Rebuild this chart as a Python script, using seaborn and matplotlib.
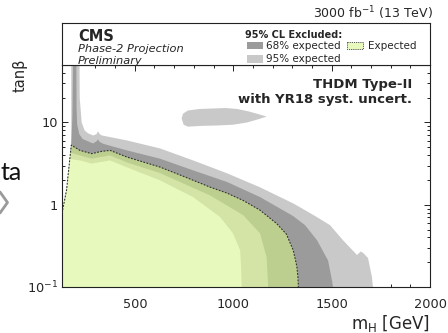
import matplotlib
matplotlib.use("Agg")
import matplotlib.pyplot as plt
import seaborn as sns
from matplotlib.patches import Rectangle
from matplotlib.lines import Line2D
from matplotlib.ticker import FixedLocator, MultipleLocator, LogLocator, NullFormatter

# ---- exclusion contours in the (m_H, tan beta) plane ----
# common low-mass edge of the excluded area
edge_m = [130, 130, 153]
edge_tb = [0.1, 0.79, 1.5]

# +2 sigma (95% expected, outer edge)
p2_m = [177, 177, 219, 220, 230, 245, 262, 288, 305, 313, 322, 333, 460, 628, 796,
        969, 1136, 1304, 1340, 1420, 1492, 1558, 1629, 1648, 1660, 1685, 1705, 1710]
p2_tb = [5.3, 50, 50, 20, 10, 8.0, 7.4, 6.95, 7.2, 7.8, 7.2, 6.95, 6.05, 4.84, 3.46,
         2.41, 1.63, 1.04, 0.93, 0.72, 0.565, 0.37, 0.245, 0.27, 0.26, 0.225, 0.132, 0.1]

# +1 sigma (68% expected, outer edge)
p1_m = [177, 183, 186, 203, 204, 207, 218, 235, 262, 288, 305, 313, 322, 340, 460,
        628, 796, 969, 1136, 1304, 1365, 1426, 1482, 1502, 1507]
p1_tb = [5.3, 12, 50, 50, 15, 9.5, 7.2, 6.3, 5.9, 5.56, 5.9, 6.2, 5.8, 5.5, 4.58,
         3.63, 2.62, 1.89, 1.24, 0.73, 0.565, 0.37, 0.21, 0.12, 0.1]

# median expected limit
exp_m = [130, 130, 153, 177, 221, 281, 330, 374, 460, 628, 750, 882, 970, 1050,
         1136, 1221, 1270, 1305, 1323, 1329, 1331]
exp_tb = [0.1, 0.79, 1.5, 5.3, 4.58, 4.18, 4.45, 4.58, 3.8, 2.87, 2.2, 1.64, 1.38, 1.13,
          0.86, 0.59, 0.44, 0.28, 0.18, 0.13, 0.1]

# -1 sigma
m1_m = [173, 221, 281, 330, 374, 460, 628, 882, 1050, 1136, 1170, 1178]
m1_tb = [4.3, 3.98, 3.63, 3.82, 3.98, 3.27, 2.43, 1.30, 0.75, 0.45, 0.23, 0.1]

# -2 sigma
m2_m = [170, 221, 281, 330, 374, 460, 628, 796, 933, 999, 1035, 1040, 1043]
m2_tb = [3.6, 3.46, 3.16, 3.32, 3.46, 2.85, 1.98, 1.24, 0.71, 0.45, 0.28, 0.18, 0.1]

# isolated +2 sigma island at large tan beta
isl_m = [738, 745, 770, 830, 900, 960, 1020, 1080, 1130, 1170, 1130, 1070, 1000,
         920, 840, 770, 748, 738]
isl_tb = [11.2, 12.8, 14.0, 14.6, 14.8, 15.0, 14.6, 13.6, 12.6, 11.8, 11.0, 10.0,
          9.4, 9.2, 9.1, 8.9, 9.4, 11.2]

x_ticks = [500, 1000, 1500, 2000]
y_ticks = [0.1, 1, 10]
y_ticklabels = ["$10^{-1}$", "1", "10"]

C_LGRAY = "#c9c9c9"
C_DGRAY = "#9b9b9b"
C_MGREEN = "#bccf8e"
C_LGREEN = "#d3e4a6"
C_YELLOW = "#e7f9bc"

sns.set_theme(style="ticks")
plt.rcParams["font.family"] = ["DejaVu Sans"]
plt.rcParams["axes.linewidth"] = 0.8

W, H = 448, 333
fig = plt.figure(figsize=(W / 100, H / 100), dpi=100)


def fx(x):
    return x / W


def fy(y):
    return 1 - y / H


ax = fig.add_axes([fx(62), fy(287), fx(430) - fx(62), fy(65) - fy(287)])
ax.set_yscale("log")
ax.set_xlim(130, 2000)
ax.set_ylim(0.1, 50)


def region(cm, ct):
    xs = list(edge_m) + list(cm) + [edge_m[0]]
    ys = list(edge_tb) + list(ct) + [edge_tb[0]]
    return xs, ys


for cm, ct, col in [(p2_m, p2_tb, C_LGRAY), (p1_m, p1_tb, C_DGRAY),
                    (exp_m[3:], exp_tb[3:], C_MGREEN), (m1_m, m1_tb, C_LGREEN),
                    (m2_m, m2_tb, C_YELLOW)]:
    xs, ys = region(cm, ct)
    ax.fill(xs, ys, color=col, lw=0, zorder=1)
ax.fill(isl_m, isl_tb, color=C_LGRAY, lw=0, zorder=1)

sns.lineplot(x=exp_m[1:], y=exp_tb[1:], ax=ax, sort=False, estimator=None,
             color="#333333", lw=0.8, linestyle=(0, (1.6, 1.3)), zorder=3)

ax.xaxis.set_major_locator(FixedLocator(x_ticks))
ax.xaxis.set_minor_locator(MultipleLocator(100))
ax.set_yticks(y_ticks)
ax.set_yticklabels(y_ticklabels)
ax.yaxis.set_minor_locator(LogLocator(base=10, subs=range(2, 10)))
ax.yaxis.set_minor_formatter(NullFormatter())
ax.tick_params(which="both", direction="in", top=True, right=True, width=0.7,
               color="#222222", labelsize=9.3)
ax.tick_params(which="major", length=4.2)
ax.tick_params(which="minor", length=2.2)
ax.tick_params(axis="x", pad=8)
ax.tick_params(axis="y", pad=3)
ax.set_xlabel("")
ax.set_ylabel("")
for s in ax.spines.values():
    s.set_color("#222222")

# header box with the legend
hx = fig.add_axes([fx(62), fy(65), fx(430) - fx(62), fy(23) - fy(65)])
hx.set_xlim(62, 430)
hx.set_ylim(65, 23)
hx.set_xticks([])
hx.set_yticks([])
for s in hx.spines.values():
    s.set_color("#222222")

hx.text(78, 40.6, "CMS", fontsize=10.5, fontweight="bold", va="baseline")
hx.text(78, 52.4, "Phase-2 Projection", fontsize=8.2, style="italic", va="baseline")
hx.text(78, 63.8, "Preliminary", fontsize=8.2, style="italic", va="baseline")

hx.text(245, 38.5, "95% CL Excluded:", fontsize=7, fontweight="bold", va="baseline")
hx.add_patch(Rectangle((247, 41.7), 16, 7.5, color=C_DGRAY, lw=0))
hx.text(266, 48.8, "68% expected", fontsize=7.5, va="baseline")
hx.add_patch(Rectangle((247, 55), 16, 7.5, color=C_LGRAY, lw=0))
hx.text(266, 62, "95% expected", fontsize=7.5, va="baseline")
hx.add_patch(Rectangle((347, 41.7), 16, 7.5, facecolor=C_YELLOW, edgecolor="#555555",
                       lw=0.7, linestyle=(0, (1.2, 1.0))))
hx.text(368, 48.8, "Expected", fontsize=7.5, va="baseline")

# annotations
fig.text(fx(433), fy(18), "3000 fb$^{-1}$ (13 TeV)", fontsize=9, ha="right", va="baseline")
fig.text(fx(412), fy(88), "THDM Type-II", fontsize=9.5, fontweight="bold",
         ha="right", va="baseline")
fig.text(fx(412), fy(103), "with YR18 syst. uncert.", fontsize=9.5,
         fontweight="bold", ha="right", va="baseline")
fig.text(fx(20), fy(59), "tanβ", fontsize=10.5, rotation=90, ha="center", va="top")
fig.text(fx(430), fy(329), "m$_{\\mathregular{H}}$ [GeV]", fontsize=12, ha="right",
         va="baseline")

# slide remnants at the left edge
fig.text(fx(0.5), fy(180), "ta", fontsize=18, family=["Lato", "DejaVu Sans"],
         ha="left", va="baseline", color="#111111")
fig.add_artist(Line2D([fx(0), fx(7.5), fx(0)], [fy(192), fy(202.5), fy(213)],
                      transform=fig.transFigure, color="#9a9a9a", lw=2.0))

fig.savefig("out.png", dpi=100)
